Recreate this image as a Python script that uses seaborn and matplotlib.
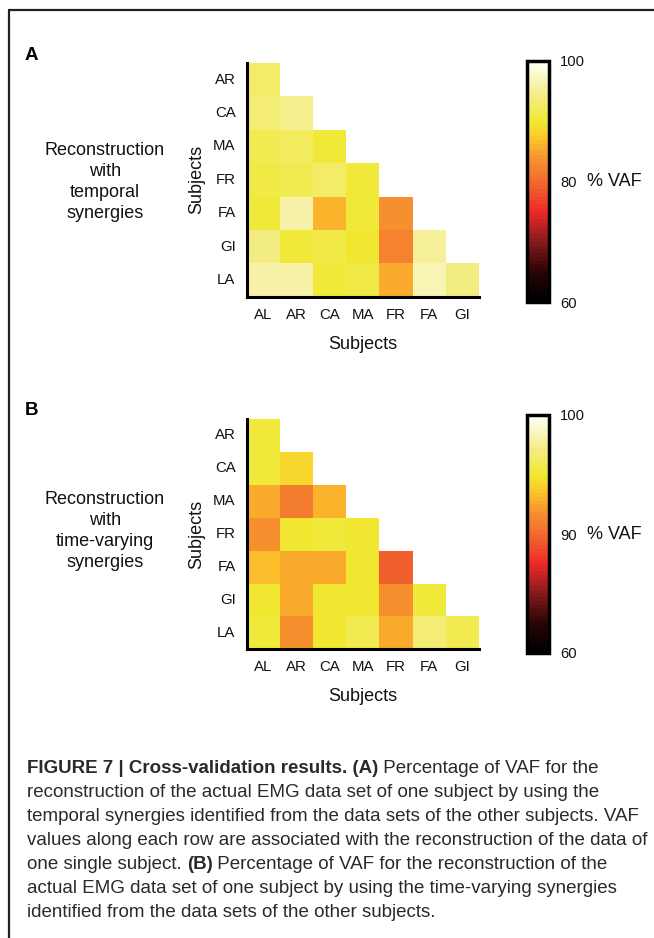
import numpy as np
import pandas as pd
import matplotlib
matplotlib.use("Agg")
import matplotlib.pyplot as plt
import seaborn as sns
from matplotlib.colors import LinearSegmentedColormap
from matplotlib.lines import Line2D
from matplotlib.font_manager import FontProperties

# ---------------- data ----------------
row_subjects = ["AR", "CA", "MA", "FR", "FA", "GI", "LA"]
col_subjects = ["AL", "AR", "CA", "MA", "FR", "FA", "GI"]

vaf_temporal = [
    [92.5],
    [93.5, 94.7],
    [91.7, 92.2, 90.3],
    [91.0, 91.3, 92.5, 90.0],
    [90.3, 96.2, 85.8, 90.0, 83.2],
    [93.8, 90.0, 90.8, 89.8, 82.0, 95.0],
    [95.7, 96.2, 90.3, 91.2, 85.6, 96.6, 94.0],
]
vaf_time_varying = [
    [90.2],
    [90.6, 88.2],
    [85.1, 81.6, 85.8],
    [83.2, 89.7, 90.5, 89.8],
    [86.6, 85.1, 85.6, 89.8, 79.2],
    [89.8, 85.1, 89.8, 89.6, 83.2, 90.3],
    [90.3, 83.4, 89.8, 91.5, 85.6, 93.5, 91.7],
]
cbar_ticks = [60, 65, 70, 75, 80, 85, 90, 95, 100]
cbar_labels_a = ["60", "", "", "", "80", "", "", "", "100"]
cbar_labels_b = ["60", "", "", "", "90", "", "", "", "100"]

# ---------------- style ----------------
sns.set_theme(style="white")
plt.rcParams['font.family'] = ['Liberation Sans', 'DejaVu Sans']

cap_family = ['Liberation Sans', 'DejaVu Sans']

cmap = LinearSegmentedColormap.from_list("vaf", [
    (0.0, "#000000"), (0.12, "#2a0404"), (0.25, "#8a1a1e"), (0.375, "#ee2a28"),
    (0.5, "#f26b2e"), (0.6, "#f7952e"), (0.68, "#fdc52a"), (0.75, "#f0e830"),
    (0.875, "#f4ee8e"), (1.0, "#fffff5")], N=64)

tick_fp = FontProperties(family=['Liberation Sans', 'DejaVu Sans'], size=10.8)
cb_fp = FontProperties(family=['Liberation Sans', 'DejaVu Sans'], size=10.6)


def to_frame(rows):
    m = np.full((len(row_subjects), len(col_subjects)), np.nan)
    for i, r in enumerate(rows):
        m[i, :len(r)] = r
    return pd.DataFrame(m, index=row_subjects, columns=col_subjects)


W, H = 654, 938
fig = plt.figure(figsize=(W / 100, H / 100), dpi=100)
renderer = fig.canvas.get_renderer()


def fx(px):
    return px / W


def fy(py):
    return 1 - py / H


def panel(rows, top, bottom, cb_top, cb_bottom, labels, left_text, text_y, letter, letter_y):
    data = to_frame(rows)
    ax = fig.add_axes([fx(246.7), fy(bottom), fx(479) - fx(246.7), (bottom - top) / H])
    cax = fig.add_axes([fx(527), fy(cb_bottom), fx(549) - fx(527), (cb_bottom - cb_top) / H])
    sns.heatmap(data, ax=ax, cbar_ax=cax, cmap=cmap, vmin=60, vmax=100,
                mask=data.isna(), linewidths=0)
    for s in ["left", "bottom"]:
        ax.spines[s].set_visible(True)
        ax.spines[s].set_color("black")
        ax.spines[s].set_linewidth(2.2)
    for s in ["right", "top"]:
        ax.spines[s].set_visible(False)
    ax.tick_params(bottom=True, left=True, direction="in", length=2.5, width=1.5,
                   color="black", pad=8, labelcolor="#111111")
    ax.set_xticklabels(col_subjects, rotation=0, fontproperties=tick_fp)
    ax.set_yticklabels(row_subjects, rotation=0, fontproperties=tick_fp)
    ax.set_xlabel("Subjects", fontsize=13, labelpad=10, color="#111111")
    ax.set_ylabel("Subjects", fontsize=13, labelpad=6, color="#111111")

    cbar = ax.collections[0].colorbar
    cbar.set_ticks(cbar_ticks)
    cax.tick_params(direction="in", length=2, width=1.5, left=True, right=True,
                    labelright=True, labelleft=False, pad=8,
                    color="black", labelcolor="#111111")
    cax.set_yticklabels(labels, fontproperties=cb_fp)
    cbar.outline.set_linewidth(2.5)
    cbar.outline.set_edgecolor("black")
    cmid = (cb_top + cb_bottom) / 2
    fig.text(fx(587), fy(cmid), "% VAF", fontsize=13, va="center", ha="left", color="#111111")

    fig.text(fx(105), fy(text_y), left_text, fontsize=13, ha="center",
             va="center", linespacing=1.32, color="#111111")
    fig.text(fx(25), fy(letter_y), letter, fontsize=13.5, fontweight="bold",
             ha="left", va="center", color="black")


panel(vaf_temporal, 63, 296.7, 61, 302, cbar_labels_a,
      "Reconstruction\nwith\ntemporal\nsynergies", 182, "A", 55)
panel(vaf_time_varying, 419, 649.3, 415, 653, cbar_labels_b,
      "Reconstruction\nwith\ntime-varying\nsynergies", 531, "B", 410)

# frame
fig.add_artist(Line2D([fx(8.5), 1], [fy(10), fy(10)], color="#222222", lw=1.6))
fig.add_artist(Line2D([fx(8.5), fx(8.5)], [0, fy(10)], color="#222222", lw=1.6))

# caption (mixed bold/regular runs)
caption = [
    [("FIGURE 7 | Cross-validation results. (A)", "bold"), (" Percentage of VAF for the", "normal")],
    [("reconstruction of the actual EMG data set of one subject by using the", "normal")],
    [("temporal synergies identified from the data sets of the other subjects. VAF", "normal")],
    [("values along each row are associated with the reconstruction of the data of", "normal")],
    [("one single subject. ", "normal"), ("(B)", "bold"), (" Percentage of VAF for the reconstruction of the", "normal")],
    [("actual EMG data set of one subject by using the time-varying synergies", "normal")],
    [("identified from the data sets of the other subjects.", "normal")],
]
probe = fig.text(0, 0, caption[2][0][0], fontsize=10, family=cap_family)
pw = probe.get_window_extent(renderer=renderer).width
probe.remove()
cap_size = 10 * 616.0 / pw

y0 = 773
for i, runs in enumerate(caption):
    x = 26.7
    for txt, wt in runs:
        t = fig.text(fx(x), fy(y0 + 24 * i), txt, fontsize=cap_size, fontweight=wt,
                     family=cap_family, ha="left", va="baseline", color="#2a2a2a")
        bb = t.get_window_extent(renderer=renderer)
        x += bb.width

fig.savefig("out.png", dpi=100)
